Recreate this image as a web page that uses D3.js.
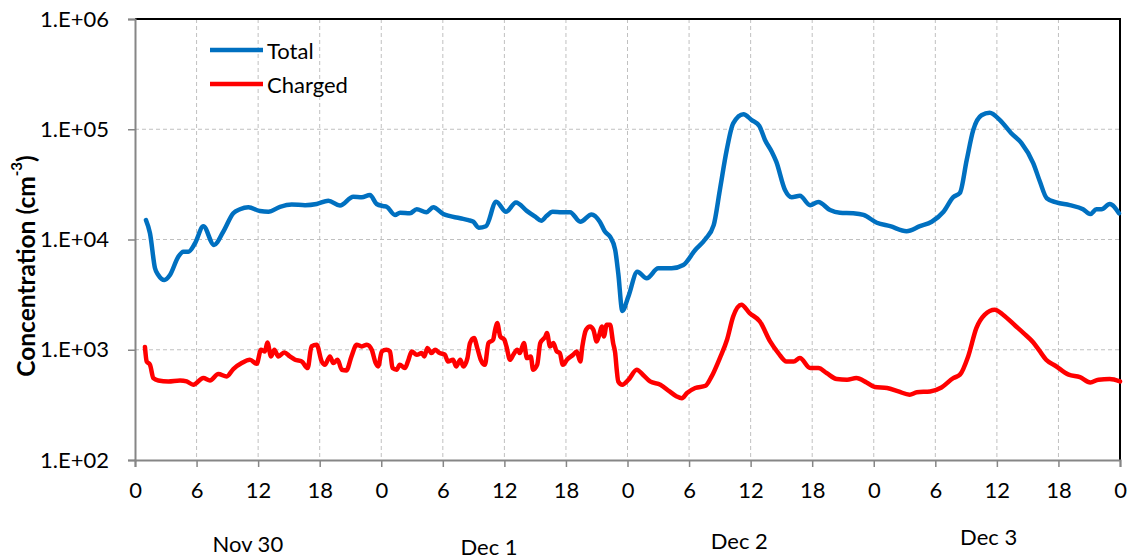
<!DOCTYPE html>
<html>
<head>
<meta charset="utf-8">
<script src="https://cdn.jsdelivr.net/npm/d3@7"></script>
<style>
  html, body { margin: 0; padding: 0; background: #fff; }
  svg { display: block; }
</style>
</head>
<body>
<svg id="chart" width="1132" height="560"></svg>
<script>
// Hours since Nov 30 00:00 and particle concentration (cm^-3)
const totalTime = [1.07, 1.46, 1.95, 2.27, 2.86, 3.41, 4.22, 4.71, 5.2, 5.85, 6.66, 7.7, 8.6, 9.58, 10.23, 11.05,
  12.18, 13.0, 14.13, 15.27, 16.57, 17.7, 18.84, 19.98, 21.28, 22.1, 22.9, 23.55, 24.2, 24.53, 25.34, 25.83,
  26.8, 27.46, 28.4, 29.07, 30.05, 31.7, 32.5, 32.97, 33.5, 34.2, 35.2, 36.16, 37.13, 38.18, 39.0, 39.6,
  40.1, 40.7, 41.6, 42.4, 43.4, 44.5, 45.3, 45.8, 46.3, 46.8, 47.1, 47.5, 48.08, 48.96, 49.87, 51.0,
  52.3, 53.44, 54.6, 55.56, 56.4, 57.0, 57.67, 58.3, 59.3, 60.1, 60.85, 61.4, 62.06, 62.5, 63.35, 64.0,
  64.8, 65.8, 66.6, 67.74, 68.7, 70.0, 71.0, 72.3, 73.6, 75.2, 76.5, 77.65, 78.8, 79.75, 80.4, 81.06,
  81.7, 82.5, 83.3, 84.3, 85.4, 86.4, 87.55, 88.2, 88.86, 89.8, 91.1, 92.4, 93.1, 93.7, 94.2, 95.0, 95.9];
const totalConc = [15000, 11400, 5480, 4770, 4300, 4770, 6980, 7750, 7750, 9240, 13200, 8920, 11770, 17300, 18800, 19600,
  18100, 17850, 19800, 20800, 20500, 21000, 22500, 20300, 24400, 24200, 25300, 21000, 20100, 19800, 16700, 17500,
  17300, 18800, 17700, 19600, 17000, 15600, 15000, 14500, 12800, 13200, 22000, 17850, 21700, 18200, 16100, 14800,
  16300, 17850, 17700, 17700, 14500, 16900, 14500, 11800, 10600, 8040, 4930, 2250, 3030, 5100, 4450, 5480,
  5480, 5870, 8040, 10000, 13500, 28100, 64800, 113000, 137000, 121000, 107000, 80000, 62600, 50800, 28100, 24200,
  24900, 20500, 21900, 18500, 17500, 17300, 16700, 14200, 13200, 11900, 13200, 14500, 17850, 24200, 26500, 52600,
  98500, 134000, 141000, 121000, 92000, 74700, 49100, 33400, 23700, 21700, 20500, 18800, 17000, 18800, 18800, 21000, 17300];

const chargedTime = [0.97, 1.14, 1.46, 1.79, 2.27, 3.25, 4.39, 5.04, 5.68, 6.66, 7.31, 8.12, 8.94, 9.58, 10.4, 11.2,
  11.86, 12.28, 12.67, 12.9, 13.26, 13.58, 13.97, 14.55, 15.1, 15.6, 16.25, 16.83, 17.2, 17.7, 18.2, 18.5,
  19.0, 19.33, 19.75, 20.15, 20.6, 21.1, 21.6, 22.1, 22.6, 23.07, 23.46, 23.7, 24.05, 24.5, 24.85, 25.1,
  25.5, 25.8, 26.3, 26.6, 26.97, 27.46, 27.94, 28.2, 28.5, 28.9, 29.24, 29.7, 30.2, 30.5, 31.0, 31.3,
  31.7, 32.0, 32.4, 32.65, 33.04, 33.36, 33.7, 34.1, 34.45, 34.9, 35.1, 35.3, 35.6, 36.0, 36.2, 36.55,
  36.87, 37.26, 37.5, 37.9, 38.2, 38.57, 38.8, 39.2, 39.5, 40.0, 40.15, 40.45, 40.77, 41.1, 41.4, 41.7,
  42.1, 42.7, 43.05, 43.4, 43.6, 43.96, 44.35, 44.67, 45.0, 45.25, 45.5, 45.7, 45.97, 46.3, 46.6, 46.8,
  46.95, 47.1, 47.5, 48.1, 48.9, 49.5, 50.2, 51.2, 52.1, 52.8, 53.3, 53.8, 54.6, 55.6, 56.2, 57.0,
  57.7, 58.3, 59.1, 59.9, 60.9, 61.9, 62.7, 63.5, 64.2, 64.8, 65.8, 66.6, 67.4, 68.4, 69.4, 70.3,
  71.3, 72.1, 73.3, 74.4, 75.5, 76.2, 77.5, 78.6, 79.75, 80.4, 81.2, 82.0, 82.8, 83.8, 84.6, 85.8,
  86.6, 87.55, 88.2, 88.8, 89.7, 91.0, 92.1, 93.1, 93.9, 95.0, 96.0];
const chargedConc = [1060, 783, 731, 553, 527, 516, 527, 516, 482, 553, 527, 602, 573, 668, 757, 811,
  747, 1000, 965, 1165, 870, 1000, 870, 945, 870, 811, 783, 682, 1071, 1110, 783, 731,
  870, 757, 811, 659, 650, 870, 1110, 1071, 1110, 1000, 757, 706, 965, 1000, 965, 682,
  659, 731, 682, 783, 965, 901, 933, 870, 1036, 933, 1000, 933, 901, 783, 811, 706,
  811, 706, 840, 1150, 1277, 1036, 811, 731, 1150, 1232, 1518, 1745, 1320, 1232, 1071, 811,
  901, 1000, 933, 1150, 840, 870, 659, 731, 1150, 1320, 1416, 1071, 1150, 965, 933, 731,
  811, 901, 965, 783, 1071, 1518, 1625, 1518, 1190, 1367, 1625, 1320, 1685, 1685, 1150, 933,
  659, 516, 482, 535, 659, 594, 516, 482, 419, 377, 364, 405, 450, 471, 573, 840,
  1232, 2004, 2560, 2150, 1806, 1190, 933, 783, 783, 840, 682, 682, 615, 542, 535, 553,
  505, 459, 450, 419, 391, 411, 419, 455, 553, 594, 870, 1573, 2075, 2306, 2075, 1650,
  1416, 1165, 965, 811, 716, 594, 565, 505, 535, 542, 516];

const xTickHours = [0, 6, 12, 18, 24, 30, 36, 42, 48, 54, 60, 66, 72, 78, 84, 90, 96];
const xTickLabels = ["0", "6", "12", "18", "0", "6", "12", "18", "0", "6", "12", "18", "0", "6", "12", "18", "0"];
const yTickValues = [1e2, 1e3, 1e4, 1e5, 1e6];
const yTickLabels = ["1.E+02", "1.E+03", "1.E+04", "1.E+05", "1.E+06"];
const dayLabels = ["Nov 30", "Dec 1", "Dec 2", "Dec 3"];
const seriesNames = ["Total", "Charged"];

const svg = d3.select("#chart");
const FONT = "Lato, 'Open Sans', sans-serif";

const x = d3.scaleLinear().domain([0, 96]).range([135, 1120]);
const y = d3.scaleLog().domain([1e2, 1e6]).range([460, 19]);

// Grid lines
const grid = svg.append("g").attr("stroke", "#c0c0c0").attr("stroke-width", 1).attr("stroke-dasharray", "4,3");
grid.selectAll("line.v").data(xTickHours.slice(1, -1)).join("line")
  .attr("x1", d => x(d)).attr("x2", d => x(d)).attr("y1", y(1e6)).attr("y2", y(1e2));
grid.selectAll("line.h").data(yTickValues.slice(1, -1)).join("line")
  .attr("x1", x(0)).attr("x2", x(96)).attr("y1", d => y(d)).attr("y2", d => y(d));

// Top and right frame
svg.append("path")
  .attr("d", `M${x(0)},${y(1e6)}H${x(96)}V${y(1e2)}`)
  .attr("fill", "none").attr("stroke", "#000").attr("stroke-width", 2);

// Axes
const xAxis = d3.axisBottom(x).tickValues(xTickHours).tickSize(7).tickPadding(15)
  .tickFormat((d, i) => xTickLabels[i]);
const gx = svg.append("g").attr("transform", `translate(0,${y(1e2)})`).call(xAxis);
gx.select(".domain").attr("stroke", "#868686").attr("stroke-width", 2);
gx.selectAll(".tick line").attr("stroke", "#868686").attr("stroke-width", 1.5);
gx.selectAll(".tick text").attr("font-family", FONT).attr("font-size", 22).attr("fill", "#000");

const yAxis = d3.axisLeft(y).tickValues(yTickValues).tickSize(7).tickPadding(19)
  .tickFormat((d, i) => yTickLabels[i]);
const gy = svg.append("g").attr("transform", `translate(${x(0)},0)`).call(yAxis);
gy.select(".domain").attr("stroke", "#868686").attr("stroke-width", 2);
gy.selectAll(".tick line").attr("stroke", "#868686").attr("stroke-width", 1.5);
gy.selectAll(".tick text").attr("font-family", FONT).attr("font-size", 22).attr("fill", "#000");

// Day labels under the hour ticks
const dayPos = [[11, 543], [34.5, 546], [58.9, 540], [83.2, 536]];
svg.selectAll("text.day").data(dayLabels).join("text")
  .attr("x", (d, i) => x(dayPos[i][0])).attr("y", (d, i) => dayPos[i][1])
  .attr("text-anchor", "middle").attr("dominant-baseline", "central")
  .attr("font-family", FONT).attr("font-size", 22).attr("fill", "#000")
  .text(d => d);

// Y axis title
const title = svg.append("text")
  .attr("transform", `translate(25,266) rotate(-90)`)
  .attr("text-anchor", "middle").attr("dominant-baseline", "central")
  .attr("font-family", FONT).attr("font-size", 24.5).attr("font-weight", "bold").attr("fill", "#000");
title.append("tspan").text("Concentration (cm");
title.append("tspan").attr("font-size", 15).attr("dy", -9).text("-3");
title.append("tspan").attr("dy", 9).text(")");

// Series lines
const line = d3.line().x(d => x(d[0])).y(d => y(d[1])).curve(d3.curveMonotoneX);
const totalData = totalTime.map((t, i) => [t, totalConc[i]]);
const chargedData = chargedTime.map((t, i) => [t, chargedConc[i]]);

svg.append("path").datum(chargedData).attr("d", line)
  .attr("fill", "none").attr("stroke", "#ff0000").attr("stroke-width", 4.5)
  .attr("stroke-linejoin", "round").attr("stroke-linecap", "round");
svg.append("path").datum(totalData).attr("d", line)
  .attr("fill", "none").attr("stroke", "#0070c0").attr("stroke-width", 4.5)
  .attr("stroke-linejoin", "round").attr("stroke-linecap", "round");

// Legend
const legendColors = ["#0070c0", "#ff0000"];
const legendY = [50, 84];
const lg = svg.append("g");
seriesNames.forEach((name, i) => {
  lg.append("line").attr("x1", 210).attr("x2", 263).attr("y1", legendY[i]).attr("y2", legendY[i])
    .attr("stroke", legendColors[i]).attr("stroke-width", 4.5);
  lg.append("text").attr("x", 267).attr("y", legendY[i]).attr("dominant-baseline", "central")
    .attr("font-family", FONT).attr("font-size", 22).attr("fill", "#000").text(name);
});
</script>
</body>
</html>
